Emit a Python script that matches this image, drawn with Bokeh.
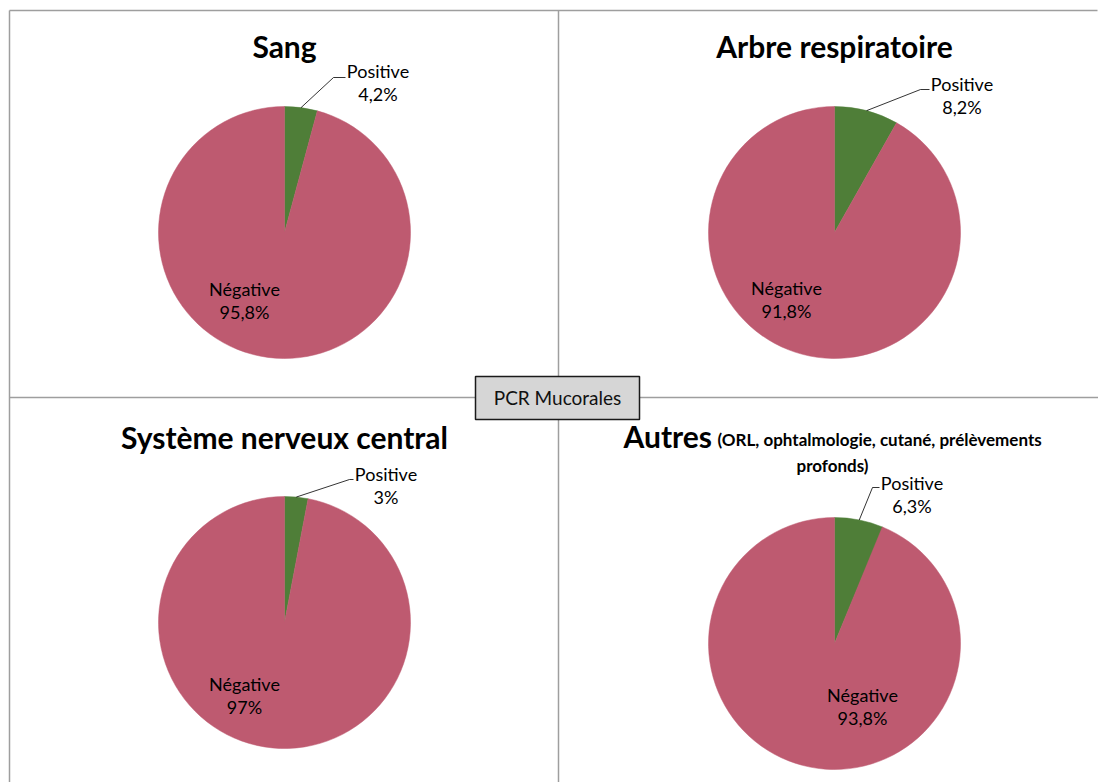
import math

from bokeh.plotting import figure
from bokeh.models import Range1d
from bokeh.core.properties import value
from bokeh.embed import file_html
from bokeh.resources import INLINE

W, H = 1098, 782

# ---- data -------------------------------------------------------------
panels = ["Sang", "Arbre respiratoire", "Système nerveux central", "Autres"]
categories = ["Positive", "Négative"]
positive_pct = [4.2, 8.2, 3.0, 6.3]
negative_pct = [95.8, 91.8, 97.0, 93.8]
overall_title = "PCR Mucorales"
autres_detail = ["(ORL, ophtalmologie, cutané, prélèvements", "profonds)"]

# ---- layout (pixel positions, y measured from the top) -----------------
centers = [(284, 232), (834, 232), (284, 622), (834, 643)]
radius = 126
title_pos = [(284, 45), (834, 45), (284, 436), (623, 435)]     # middle y
pos_label = [(347, 70), (931, 83), (355, 473), (881, 482)]     # left x, middle y
neg_label = [(244, 288), (786, 287), (244, 683), (862, 694)]   # center x, middle y
elbow = [(333, 77), (920, 89), (349, 479), (872, 487)]

POS_COLOR = "#4F7E38"
NEG_COLOR = "#BE5A70"
FRAME = "#9E9E9E"
FONT = value("Lato")
LINE_GAP = 23


def Y(v):
    return H - v


def fmt(v):
    s = f"{v:.1f}".replace(".", ",")
    if s.endswith(",0"):
        s = s[:-2]
    return s + "%"


p = figure(width=W, height=H, x_range=Range1d(0, W), y_range=Range1d(0, H),
           x_axis_type=None, y_axis_type=None, toolbar_location=None,
           output_backend="svg", min_border=0, outline_line_color=None,
           background_fill_color="white", border_fill_color="white")
p.grid.visible = False

# frame and quadrant dividers
p.segment(x0=[9, 9, 558, 9], y0=[Y(10), Y(10), Y(10), Y(397)],
          x1=[1097, 9, 558, 1098], y1=[Y(10), Y(782), Y(782), Y(397)],
          line_color=FRAME, line_width=1.5)

for i, name in enumerate(panels):
    cx, cy = centers[i]
    pos, neg = positive_pct[i], negative_pct[i]
    top = math.pi / 2
    # slices run clockwise from 12 o'clock: positive first, then negative
    pos_start = top - 2 * math.pi * pos / 100
    p.wedge(x=[cx], y=[Y(cy)], radius=radius, start_angle=[pos_start],
            end_angle=[top], direction="anticlock",
            fill_color=POS_COLOR, line_color=POS_COLOR, line_width=0.5)
    p.wedge(x=[cx], y=[Y(cy)], radius=radius, start_angle=[top],
            end_angle=[top + 2 * math.pi * neg / 100], direction="anticlock",
            fill_color=NEG_COLOR, line_color=NEG_COLOR, line_width=0.5)

    # leader line from the middle of the positive slice to its label
    mid = top - math.pi * pos / 100
    sx = cx + radius * math.cos(mid)
    sy = cy - radius * math.sin(mid)
    ex, ey = elbow[i]
    lx, ly = pos_label[i]
    p.line(x=[sx, ex, lx - 2], y=[Y(sy), Y(ey), Y(ey)],
           line_color="#000000", line_width=0.8)

    plw = 61  # approx. width of the "Positive" word
    p.text(x=[lx + plw / 2, lx + plw / 2], y=[Y(ly), Y(ly + LINE_GAP)],
           text=[categories[0], fmt(pos)], text_font=FONT,
           text_font_size="18px", text_align="center",
           text_baseline="middle", text_color="#000000")

    nx, ny = neg_label[i]
    p.text(x=[nx, nx], y=[Y(ny), Y(ny + LINE_GAP)],
           text=[categories[1], fmt(neg)], text_font=FONT,
           text_font_size="18px", text_align="center",
           text_baseline="middle", text_color="#000000")

    tx, ty = title_pos[i]
    p.text(x=[tx], y=[Y(ty)], text=[name], text_font=FONT,
           text_font_size="30px", text_font_style="bold",
           text_align="left" if name == "Autres" else "center",
           text_baseline="middle", text_color="#000000")

# detail text next to the "Autres" title
p.text(x=[717], y=[Y(439)], text=[autres_detail[0]], text_font=FONT,
       text_font_size="17px", text_font_style="bold", text_align="left",
       text_baseline="middle", text_color="#000000")
p.text(x=[832], y=[Y(465)], text=[autres_detail[1]], text_font=FONT,
       text_font_size="17px", text_font_style="bold", text_align="center",
       text_baseline="middle", text_color="#000000")

# central caption box
p.quad(left=[475], right=[639], top=[Y(376)], bottom=[Y(419)],
       fill_color="#D6D6D6", line_color="#1A1A1A", line_width=1.5)
p.text(x=[557], y=[Y(397)], text=[overall_title], text_font=FONT,
       text_font_size="19px", text_align="center", text_baseline="middle",
       text_color="#111111")

open("out.html", "w").write(file_html(p, INLINE))
